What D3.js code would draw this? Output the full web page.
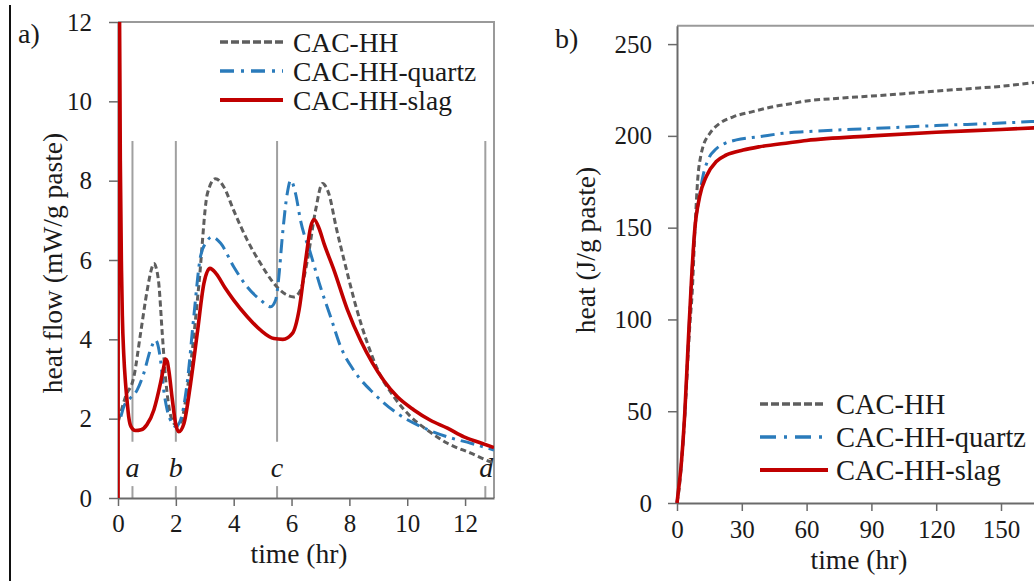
<!DOCTYPE html>
<html>
<head>
<meta charset="utf-8">
<script src="https://cdn.jsdelivr.net/npm/d3@7"></script>
<style>
  html, body { margin: 0; padding: 0; background: #fff; }
  svg { display: block; }
  text { font-family: "Liberation Serif", "Times New Roman", serif; fill: #1a1a1a; }
</style>
</head>
<body>
<svg id="chart" width="1034" height="581"></svg>
<script>
// ---------------- DATA ----------------
const seriesNames = ["CAC-HH", "CAC-HH-quartz", "CAC-HH-slag"];

// Panel a: heat flow (mW/g paste) vs time (hr)
const hhTimeA = [0.02, 0.26, 0.55, 0.78, 1.01, 1.15, 1.24, 1.32, 1.41, 1.53, 1.64, 1.76, 1.93, 2.05, 2.2, 2.34, 2.57, 2.8, 3.09, 3.37, 3.66, 4.0, 4.47, 4.93, 5.39, 5.74, 6.08, 6.31, 6.55, 6.83, 7.07, 7.29, 7.55, 7.85, 8.2, 8.6, 9.0, 9.54, 10.12, 10.7, 11.39, 12.2, 12.9, 13.0];
const hhFlowA = [1.96, 2.55, 3.06, 4.15, 5.24, 5.75, 5.91, 5.8, 5.41, 4.15, 3.06, 2.3, 1.88, 1.82, 1.95, 2.47, 3.73, 5.41, 7.67, 8.05, 7.84, 7.25, 6.5, 5.91, 5.41, 5.16, 5.07, 5.24, 6.0, 7.25, 7.93, 7.67, 6.8, 5.9, 4.9, 3.95, 3.2, 2.55, 2.05, 1.71, 1.38, 1.13, 0.91, 0.89];

const quartzTimeA = [0.1, 0.2, 0.4, 0.66, 0.89, 1.12, 1.3, 1.47, 1.58, 1.7, 1.88, 1.99, 2.16, 2.39, 2.62, 2.85, 3.05, 3.26, 3.55, 4.0, 4.47, 4.93, 5.28, 5.45, 5.56, 5.68, 5.85, 5.97, 6.14, 6.31, 6.66, 7.0, 7.35, 7.7, 8.15, 8.84, 9.66, 10.47, 11.39, 12.2, 13.0];
const quartzFlowA = [2.05, 2.3, 2.5, 2.72, 3.14, 3.73, 3.98, 3.48, 2.72, 2.22, 1.88, 1.8, 1.96, 2.89, 4.57, 6.08, 6.45, 6.58, 6.42, 5.83, 5.32, 4.99, 4.82, 4.99, 5.57, 6.58, 7.67, 8.01, 7.67, 7.0, 6.16, 5.32, 4.57, 3.81, 3.22, 2.64, 2.13, 1.8, 1.54, 1.38, 1.21];

const slagTimeA = [0, 0.02, 0.05, 0.08, 0.12, 0.15, 0.2, 0.26, 0.32, 0.37, 0.45, 0.6, 0.8, 1.0, 1.24, 1.47, 1.58, 1.64, 1.7, 1.76, 1.88, 1.99, 2.1, 2.28, 2.51, 2.74, 2.97, 3.18, 3.4, 3.7, 4.0, 4.47, 4.93, 5.39, 5.7, 6.03, 6.26, 6.49, 6.66, 6.78, 6.95, 7.12, 7.47, 7.93, 8.4, 8.8, 9.2, 9.66, 10.23, 10.8, 11.39, 11.96, 12.5, 13.0];
const slagFlowA = [0, 13, 12.5, 8.5, 5.8, 4.6, 3.6, 2.9, 2.4, 2.05, 1.8, 1.7, 1.72, 1.85, 2.22, 2.9, 3.3, 3.5, 3.45, 3.2, 2.47, 1.88, 1.67, 1.88, 2.89, 4.15, 5.41, 5.79, 5.65, 5.3, 4.99, 4.57, 4.23, 4.02, 4.0, 4.15, 4.74, 6.0, 6.83, 7.02, 6.8, 6.42, 5.74, 4.75, 3.95, 3.4, 2.95, 2.55, 2.22, 1.96, 1.76, 1.54, 1.4, 1.27];

const markerTimes = [0.5, 2, 5.5, 12.7];
const markerLabels = ["a", "b", "c", "d"];

const xTicksA = [0, 2, 4, 6, 8, 10, 12];
const yTicksA = [0, 2, 4, 6, 8, 10, 12];

// Panel b: cumulative heat (J/g paste) vs time (hr)
const hhTimeB = [0, 1, 2, 3, 4, 5, 6, 7, 8.2, 9.7, 11, 12, 15, 20, 26, 35, 45, 52, 60, 75, 90, 105, 120, 135, 150, 168];
const hhHeatB = [0, 8, 21, 37, 56, 78, 98, 114, 146, 178, 189, 194, 201, 207, 210.4, 213.2, 216, 217.4, 219, 220.5, 221.7, 223, 224.4, 225.7, 227, 229.5];

const quartzTimeB = [0, 0.5, 2, 3.6, 5.1, 6.7, 8.2, 10.5, 12, 14.4, 18.2, 22, 27.5, 38.3, 49, 60, 90, 120, 150, 168];
const quartzHeatB = [0, 5, 21, 48, 84, 121, 148, 168, 178, 187, 193, 195.8, 197.8, 199.6, 201.4, 202.3, 204, 205.6, 207, 208];

const slagTimeB = [0, 0.5, 2, 3.6, 5.1, 6.7, 8.2, 10.5, 13.6, 18.2, 22.9, 30.6, 38.3, 52, 60, 90, 120, 150, 168];
const slagHeatB = [0, 5, 21.6, 49, 85, 121.5, 148.7, 167, 178, 186, 189.6, 192.3, 194.1, 196.3, 197.5, 200, 202, 203.5, 204.5];

const xTicksB = [0, 30, 60, 90, 120, 150];
const yTicksB = [0, 50, 100, 150, 200, 250];

// ---------------- STYLES ----------------
const styles = [
  { color: "#5e5e5e", width: 3, dash: "6,3.5" },
  { color: "#2a7bbb", width: 3, dash: "14,6,3,6" },
  { color: "#c00000", width: 3.6, dash: null }
];

const svg = d3.select("#chart");

// left figure border
svg.append("line").attr("x1", 10).attr("x2", 10).attr("y1", 5).attr("y2", 581)
  .attr("stroke", "#111").attr("stroke-width", 2);

function zip(ts, vs) { return ts.map((t, i) => [t, vs[i]]); }

// ================= PANEL A =================
const xA = d3.scaleLinear().domain([0, 13]).range([118, 494]);
const yA = d3.scaleLinear().domain([0, 12]).range([498, 22]);

const gA = svg.append("g");
gA.append("clipPath").attr("id", "clipA").append("rect")
  .attr("x", xA(0)).attr("y", yA(12)).attr("width", xA(13) - xA(0)).attr("height", yA(0) - yA(12));

// frame top/right
gA.append("path")
  .attr("d", `M${xA(0)},${yA(12)}H${xA(13)}V${yA(0)}`)
  .attr("fill", "none").attr("stroke", "#9a9a9a").attr("stroke-width", 2);

// marker lines
markerTimes.forEach((t, i) => {
  gA.append("line").attr("x1", xA(t)).attr("x2", xA(t)).attr("y1", yA(9)).attr("y2", yA(1.42))
    .attr("stroke", "#a0a0a0").attr("stroke-width", 2);
  gA.append("line").attr("x1", xA(t)).attr("x2", xA(t)).attr("y1", yA(0.3)).attr("y2", yA(0))
    .attr("stroke", "#a0a0a0").attr("stroke-width", 2);
  gA.append("text").attr("x", xA(t) + (i === 3 ? 1 : 0)).attr("y", 477)
    .attr("text-anchor", "middle").attr("font-size", 28).attr("font-style", "italic")
    .text(markerLabels[i]);
});

const axisStyle = g => {
  g.select(".domain").attr("stroke", "#6a6a6a").attr("stroke-width", 2);
  g.selectAll(".tick line").attr("stroke", "#6a6a6a").attr("stroke-width", 1.5);
  g.selectAll(".tick text").attr("font-size", 25).attr("fill", "#1a1a1a")
    .attr("font-family", "'Liberation Serif', 'Times New Roman', serif");
};

gA.append("g").attr("transform", `translate(0,${yA(0)})`)
  .call(d3.axisBottom(xA).tickValues(xTicksA).tickSize(8).tickSizeOuter(0).tickPadding(8).tickFormat(d3.format("d")))
  .call(axisStyle);
gA.append("g").attr("transform", `translate(${xA(0)},0)`)
  .call(d3.axisLeft(yA).tickValues(yTicksA).tickSize(9).tickSizeOuter(0).tickPadding(17).tickFormat(d3.format("d")))
  .call(axisStyle);

const lineA = d3.line().x(d => xA(d[0])).y(d => yA(d[1])).curve(d3.curveMonotoneX);
const dataA = [zip(hhTimeA, hhFlowA), zip(quartzTimeA, quartzFlowA), zip(slagTimeA, slagFlowA)];
const curvesA = gA.append("g").attr("clip-path", "url(#clipA)");
dataA.forEach((d, i) => {
  curvesA.append("path").datum(d).attr("d", lineA)
    .attr("fill", "none").attr("stroke", styles[i].color).attr("stroke-width", styles[i].width)
    .attr("stroke-dasharray", styles[i].dash).attr("stroke-linejoin", "round");
});

// legend a
const legA = [42, 71, 100];
seriesNames.forEach((n, i) => {
  gA.append("line").attr("x1", 220).attr("x2", 283).attr("y1", legA[i]).attr("y2", legA[i])
    .attr("stroke", styles[i].color).attr("stroke-width", styles[i].width + 0.4)
    .attr("stroke-dasharray", styles[i].dash ? (i === 0 ? "8,3" : "14,7,3,7") : null);
  gA.append("text").attr("x", 293).attr("y", legA[i] + 10).attr("font-size", 27.5).text(n);
});

// titles a
svg.append("text").attr("x", 18).attr("y", 43).attr("font-size", 28).text("a)");
svg.append("text").attr("transform", "translate(62,263) rotate(-90)")
  .attr("text-anchor", "middle").attr("font-size", 27.5).text("heat flow (mW/g paste)");
svg.append("text").attr("x", 299).attr("y", 563).attr("text-anchor", "middle")
  .attr("font-size", 27.5).text("time (hr)");

// ================= PANEL B =================
const xB = d3.scaleLinear().domain([0, 168]).range([677, 677 + 168 * 2.16]);
const yB = d3.scaleLinear().domain([0, 260]).range([503, 503 - 260 * 1.8356]);

const gB = svg.append("g");
gB.append("line").attr("x1", xB(0)).attr("x2", 1034).attr("y1", yB(260)).attr("y2", yB(260))
  .attr("stroke", "#9a9a9a").attr("stroke-width", 2);

gB.append("g").attr("transform", `translate(0,${yB(0)})`)
  .call(d3.axisBottom(xB).tickValues(xTicksB).tickSize(8).tickSizeOuter(0).tickPadding(9).tickFormat(d3.format("d")))
  .call(axisStyle);
gB.append("g").attr("transform", `translate(${xB(0)},0)`)
  .call(d3.axisLeft(yB).tickValues(yTicksB).tickSize(9).tickSizeOuter(0).tickPadding(16).tickFormat(d3.format("d")))
  .call(axisStyle);

const lineB = d3.line().x(d => xB(d[0])).y(d => yB(d[1])).curve(d3.curveMonotoneX);
const dataB = [zip(hhTimeB, hhHeatB), zip(quartzTimeB, quartzHeatB), zip(slagTimeB, slagHeatB)];
dataB.forEach((d, i) => {
  gB.append("path").datum(d).attr("d", lineB)
    .attr("fill", "none").attr("stroke", styles[i].color).attr("stroke-width", styles[i].width)
    .attr("stroke-dasharray", styles[i].dash).attr("stroke-linejoin", "round");
});

const legB = [404, 437, 470];
seriesNames.forEach((n, i) => {
  gB.append("line").attr("x1", 760).attr("x2", i === 2 ? 828 : 825).attr("y1", legB[i]).attr("y2", legB[i])
    .attr("stroke", styles[i].color).attr("stroke-width", styles[i].width + 0.4)
    .attr("stroke-dasharray", styles[i].dash ? (i === 0 ? "8,3" : "16,8,3,8") : null);
  gB.append("text").attr("x", 836).attr("y", legB[i] + 10).attr("font-size", 28.5).text(n);
});

svg.append("text").attr("x", 555).attr("y", 48).attr("font-size", 28).text("b)");
svg.append("text").attr("transform", "translate(595,250) rotate(-90)")
  .attr("text-anchor", "middle").attr("font-size", 27.5).text("heat (J/g paste)");
svg.append("text").attr("x", 859).attr("y", 569).attr("text-anchor", "middle")
  .attr("font-size", 27.5).text("time (hr)");
</script>
</body>
</html>
